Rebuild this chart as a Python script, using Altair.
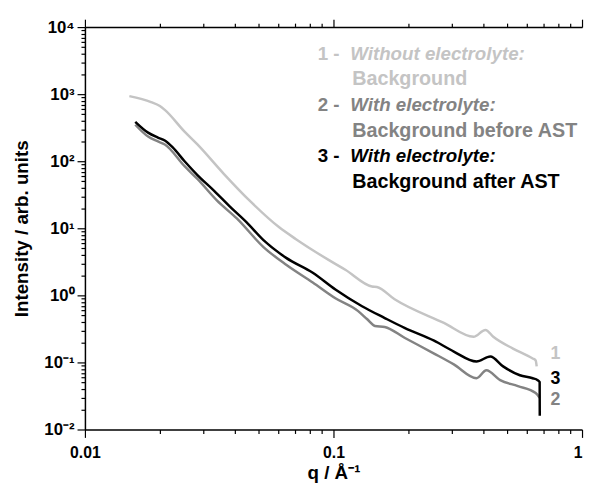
import altair as alt
import pandas as pd

# ---- data (q in 1/Å, intensity in arb. units) ----
q1 = [0.01509, 0.01845, 0.02002, 0.02096, 0.02517, 0.02835, 0.03627, 0.04600,
      0.06048, 0.07066, 0.09554, 0.1116, 0.1428, 0.1495, 0.1762, 0.2782,
      0.3661, 0.4086, 0.4394, 0.5275, 0.6332, 0.6510, 0.6570]
I1 = [934, 762, 666, 582, 276, 178, 64.4, 25.8,
      10.34, 6.89, 3.38, 2.41, 1.356, 1.334, 0.873, 0.3875,
      0.2412, 0.3056, 0.2412, 0.1607, 0.1145, 0.1070, 0.0873]

q2 = [0.01594, 0.01795, 0.01966, 0.02096, 0.02517, 0.02835, 0.03402, 0.04084,
      0.05228, 0.06452, 0.08254, 0.1018, 0.1257, 0.1364, 0.1468, 0.1608,
      0.1931, 0.2540, 0.3049, 0.3762, 0.4122, 0.4684, 0.5522, 0.6510, 0.6753]
I2 = [350.0, 233.2, 196.9, 177.8, 84.43, 54.37, 25.81, 14.03,
      5.255, 2.857, 1.553, 0.9034, 0.5817, 0.4437, 0.3500, 0.3383,
      0.2332, 0.1356, 0.09345, 0.05817, 0.07626, 0.05436, 0.04437, 0.03500, 0.02956]

q3 = [0.01594, 0.01795, 0.01966, 0.02096, 0.02255, 0.02517, 0.02835, 0.03310,
      0.03831, 0.04474, 0.05228, 0.06452, 0.08254, 0.1018, 0.1303, 0.1608,
      0.1931, 0.2540, 0.3049, 0.3762, 0.4276, 0.4814, 0.5623, 0.6332, 0.6630,
      0.6753, 0.6760]
I3 = [387.5, 267.0, 225.4, 203.6, 160.6, 100.0, 62.26, 36.21,
      21.06, 12.25, 6.659, 3.621, 2.179, 1.225, 0.6893, 0.4589,
      0.3270, 0.2107, 0.1451, 0.1034, 0.1225, 0.0873, 0.06437, 0.05817, 0.05436,
      0.05081, 0.01606]

series_names = ["1", "2", "3"]
series_colors = ["#c4c4c4", "#838383", "#000000"]

end_label_q = [0.7464, 0.7464, 0.7464]
end_label_I = [0.1311, 0.02716, 0.05623]

legend_prefix = ["1 - ", "2 - ", "3 - "]
legend_italic = ["Without electrolyte:", "With electrolyte:", "With electrolyte:"]
legend_body = ["Background", "Background before AST", "Background after AST"]

x_tick_values = [0.01, 0.02, 0.03, 0.04, 0.05, 0.06, 0.07, 0.08, 0.09,
                 0.1, 0.2, 0.3, 0.4, 0.5, 0.6, 0.7, 0.8, 0.9, 1.0]
y_tick_values = [m * 10.0 ** e for e in range(-2, 4) for m in range(1, 10)] + [10000.0]
y_tick_text = ["10⁻²", "10⁻¹", "10⁰", "10¹", "10²", "10³", "10⁴"]

FONT = "Liberation Sans"

# ---- tables ----
rows = []
for name, qs, Is in zip(series_names, [q1, q2, q3], [I1, I2, I3]):
    for k, (a, b) in enumerate(zip(qs, Is)):
        rows.append({"series": name, "q": a, "I": b, "k": k})
df = pd.DataFrame(rows)
lab_df = pd.DataFrame({"series": series_names, "q": end_label_q, "I": end_label_I})

major = "abs(log(datum.value)/LN10 - round(log(datum.value)/LN10)) < 0.001"
tick_size = {"condition": {"test": major, "value": 8}, "value": 4}
ylab_arr = "[" + ",".join("'" + t + "'" for t in y_tick_text) + "]"

xs = alt.Scale(type="log", domain=[0.01, 1], nice=False)
ys = alt.Scale(type="log", domain=[0.01, 10000], nice=False)
cs = alt.Scale(domain=series_names, range=series_colors)

lines = alt.Chart(df).mark_line(strokeWidth=2.5, clip=True, interpolate="monotone").encode(
    x=alt.X("q:Q", scale=xs, axis=alt.Axis(
        orient="bottom", values=x_tick_values, tickSize=tick_size,
        labelExpr=f"({major}) ? (datum.value > 0.5 ? '1' : (datum.value > 0.05 ? '0.1' : '0.01')) : ''",
        labelAlign={"condition": {"test": "datum.value > 0.5", "value": "right"}, "value": "center"},
        labelOverlap=False, labelFlush=False, labelFontSize=16, labelPadding=7,
        title="q / Å⁻¹", titleFontSize=19, titlePadding=4)),
    y=alt.Y("I:Q", scale=ys, axis=alt.Axis(
        orient="left", values=y_tick_values, tickSize=tick_size,
        labelExpr=f"({major}) ? {ylab_arr}[round(log(datum.value)/LN10) + 2] : ''",
        labelOverlap=False, labelFlush=False, labelFontSize=17, labelPadding=3,
        title="Intensity / arb. units", titleFontSize=19, titlePadding=13)),
    color=alt.Color("series:N", scale=cs, legend=None),
    order="k:Q",
)

labels = alt.Chart(lab_df).mark_text(
    align="left", baseline="middle", font=FONT, fontSize=18, fontWeight="bold"
).encode(
    x=alt.X("q:Q", scale=xs, axis=alt.Axis(
        orient="top", values=x_tick_values, tickSize=tick_size,
        labels=False, title=None)),
    y=alt.Y("I:Q", scale=ys, axis=None),
    text="series:N",
    color=alt.Color("series:N", scale=cs, legend=None),
)

legend_layers = []
for i in range(3):
    col = series_colors[i]
    y0 = 33 + 52 * i
    legend_layers.append(
        alt.Chart(pd.DataFrame({"t": [legend_prefix[i]]})).mark_text(
            align="left", baseline="alphabetic", font=FONT, fontSize=19,
            fontWeight="bold", color=col
        ).encode(x=alt.value(236), y=alt.value(y0), text="t:N"))
    legend_layers.append(
        alt.Chart(pd.DataFrame({"t": [legend_italic[i]]})).mark_text(
            align="left", baseline="alphabetic", font=FONT, fontSize=19,
            fontWeight="bold", fontStyle="italic", color=col
        ).encode(x=alt.value(269), y=alt.value(y0), text="t:N"))
    legend_layers.append(
        alt.Chart(pd.DataFrame({"t": [legend_body[i]]})).mark_text(
            align="left", baseline="alphabetic", font=FONT, fontSize=20,
            fontWeight="bold", color=col
        ).encode(x=alt.value(271), y=alt.value(y0 + 26), text="t:N"))

chart = alt.layer(lines, labels, *legend_layers).resolve_axis(
    x="independent", y="independent"
).properties(
    width=504, height=408,
    padding={"left": 78, "top": 16, "right": 2, "bottom": 59},
    autosize=alt.AutoSizeParams(type="none"),
).configure_view(stroke=None).configure_axis(
    grid=False, domainColor="#000000", domainWidth=1.5,
    tickColor="#000000", tickWidth=1.2,
    labelFont=FONT, labelFontWeight="bold", labelColor="#000000",
    titleFont=FONT, titleFontWeight="bold", titleColor="#000000",
)

chart.save("out.html", embed_options={"renderer": "svg", "actions": False})
